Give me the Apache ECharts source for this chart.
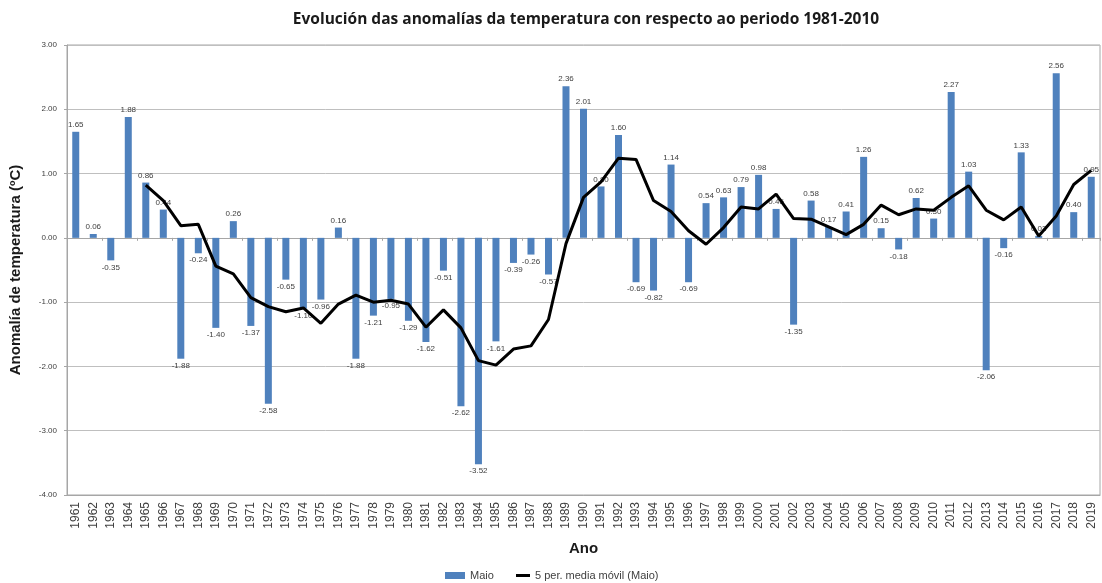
<!DOCTYPE html>
<html>
<head>
<meta charset="utf-8">
<script src="https://cdn.jsdelivr.net/npm/echarts@6/dist/echarts.min.js"></script>
<style>
html,body{margin:0;padding:0;background:#fff;}
#c{width:1102px;height:583px;}
</style>
</head>
<body>
<div id="c"></div>
<script>
const years = ["1961","1962","1963","1964","1965","1966","1967","1968","1969","1970",
"1971","1972","1973","1974","1975","1976","1977","1978","1979","1980",
"1981","1982","1983","1984","1985","1986","1987","1988","1989","1990",
"1991","1992","1993","1994","1995","1996","1997","1998","1999","2000",
"2001","2002","2003","2004","2005","2006","2007","2008","2009","2010",
"2011","2012","2013","2014","2015","2016","2017","2018","2019"];

const maio = [1.65,0.06,-0.35,1.88,0.86,0.44,-1.88,-0.24,-1.40,0.26,
-1.37,-2.58,-0.65,-1.10,-0.96,0.16,-1.88,-1.21,-0.95,-1.29,
-1.62,-0.51,-2.62,-3.52,-1.61,-0.39,-0.26,-0.57,2.36,2.01,
0.80,1.60,-0.69,-0.82,1.14,-0.69,0.54,0.63,0.79,0.98,
0.45,-1.35,0.58,0.17,0.41,1.26,0.15,-0.18,0.62,0.30,
2.27,1.03,-2.06,-0.16,1.33,0.03,2.56,0.40,0.95];

const mediaMovil = [null,null,null,null,0.82,0.58,0.19,0.21,-0.44,-0.56,
-0.93,-1.07,-1.15,-1.09,-1.33,-1.03,-0.89,-1.00,-0.97,-1.03,
-1.39,-1.12,-1.40,-1.91,-1.98,-1.73,-1.68,-1.27,-0.09,0.63,
0.87,1.24,1.22,0.58,0.41,0.11,-0.10,0.16,0.48,0.45,
0.68,0.30,0.29,0.17,0.05,0.21,0.51,0.36,0.45,0.43,
0.63,0.81,0.43,0.28,0.48,0.03,0.34,0.83,1.05];

const yTicks = {min:-4, max:3, interval:1};

const chart = echarts.init(document.getElementById('c'), null, {renderer:'canvas'});
const barData = maio.map(v => ({
  value: v,
  label: {position: v < 0 ? 'bottom' : 'top'}
}));

const legendText = {fontFamily:'Liberation Sans', fontSize:11, color:'#404040'};

chart.setOption({
  animation:false,
  backgroundColor:'#ffffff',
  title:{
    text:'Evolución das anomalías da temperatura con respecto ao periodo 1981-2010',
    left:581, top:7, textAlign:'center',
    textStyle:{fontFamily:'Open Sans', fontWeight:'bold', fontSize:15.5, color:'#1a1a1a'}
  },
  legend:[{
    left:440, top:565, itemWidth:20, itemHeight:7, itemGap:4,
    textStyle:legendText,
    data:[{name:'Maio', icon:'rect'}]
  },{
    left:511, top:565, itemWidth:14, itemHeight:3, itemGap:2,
    textStyle:legendText,
    data:[{name:'5 per. media móvil (Maio)', icon:'rect'}]
  }],
  grid:{left:67, right:2, top:45, bottom:88, show:true, borderColor:'#a6a6a6', borderWidth:1},
  xAxis:[{
    type:'category', data:years, position:'bottom',
    name:'Ano', nameLocation:'middle', nameGap:46,
    nameTextStyle:{fontFamily:'Liberation Sans', fontWeight:'bold', fontSize:15, color:'#1a1a1a'},
    axisLine:{onZero:false, lineStyle:{color:'#a6a6a6'}},
    axisTick:{show:false},
    axisLabel:{rotate:90, interval:0, fontFamily:'Liberation Sans', fontSize:12, color:'#404040', margin:7}
  },{
    type:'category', data:years, position:'bottom',
    axisLine:{onZero:true, lineStyle:{color:'#a6a6a6'}},
    axisTick:{show:true, inside:false, length:3, lineStyle:{color:'#a6a6a6'}},
    axisLabel:{show:false}
  }],
  yAxis:{
    type:'value', min:yTicks.min, max:yTicks.max, interval:yTicks.interval,
    name:'Anomalía de temperatura (ºC)', nameLocation:'middle', nameGap:44,
    nameTextStyle:{fontFamily:'Liberation Sans', fontWeight:'bold', fontSize:15, color:'#1a1a1a'},
    axisLine:{show:true, lineStyle:{color:'#a6a6a6'}},
    axisTick:{show:true, length:3, lineStyle:{color:'#a6a6a6'}},
    splitLine:{show:true, lineStyle:{color:'#bfbfbf', width:1}},
    axisLabel:{formatter:v => v.toFixed(2), fontFamily:'Liberation Sans', fontSize:8, color:'#404040', margin:10}
  },
  series:[{
    name:'Maio', type:'bar', data:barData, barWidth:7,
    itemStyle:{color:'#4f81bd'},
    label:{show:true, formatter:p => p.value.toFixed(2), fontFamily:'Liberation Sans', fontSize:8, color:'#404040', distance:3}
  },{
    name:'5 per. media móvil (Maio)', type:'line', data:mediaMovil,
    showSymbol:false, symbol:'none', connectNulls:false,
    lineStyle:{color:'#000000', width:3},
    itemStyle:{color:'#000000'},
    z:5
  }]
});
</script>
</body>
</html>
